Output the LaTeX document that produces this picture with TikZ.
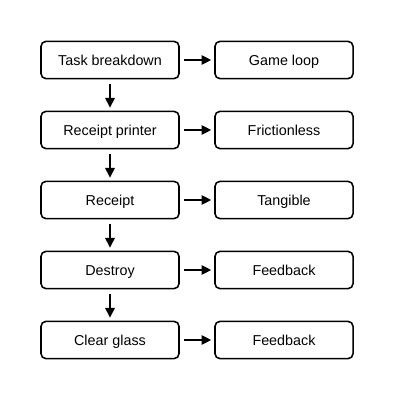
\documentclass[tikz,border=0pt]{standalone}
\usepackage{fontspec}
\setmainfont{Liberation Sans}
\usetikzlibrary{arrows.meta}
\begin{document}
\begin{tikzpicture}[x=0.025cm, y=-0.025cm, line width=1.1pt, box node/.style={rectangle,draw,rounded corners=3.5pt,minimum width=3.45cm,minimum height=0.93cm,inner sep=0pt,text height=7.3pt,text depth=0pt,font=\fontsize{10.2}{12}\selectfont}, link/.style={line width=1.9pt,-{Triangle[length=7pt,width=6.5pt]},shorten <=3pt,shorten >=2pt}]
\useasboundingbox (0,0) rectangle (400,400);
\begin{scope}
\node[box node] (l1) at (110,60) {Task breakdown};
\node[box node] (l2) at (110,130) {Receipt printer};
\node[box node] (l3) at (110,200) {Receipt};
\node[box node] (l4) at (110,270) {Destroy};
\node[box node] (l5) at (110,340) {Clear glass};
\node[box node] (r1) at (284,60) {Game loop};
\node[box node] (r2) at (284,130) {Frictionless};
\node[box node] (r3) at (284,200) {Tangible};
\node[box node] (r4) at (284,270) {Feedback};
\node[box node] (r5) at (284,340) {Feedback};
\end{scope}
\begin{scope}[link]
\draw  (l1) edge (r1);
\draw  (l2) edge (r2);
\draw  (l3) edge (r3);
\draw  (l4) edge (r4);
\draw  (l5) edge (r5);
\draw  (l1) edge (l2);
\draw  (l2) edge (l3);
\draw  (l3) edge (l4);
\draw  (l4) edge (l5);
\end{scope}
\end{tikzpicture}
\end{document}
